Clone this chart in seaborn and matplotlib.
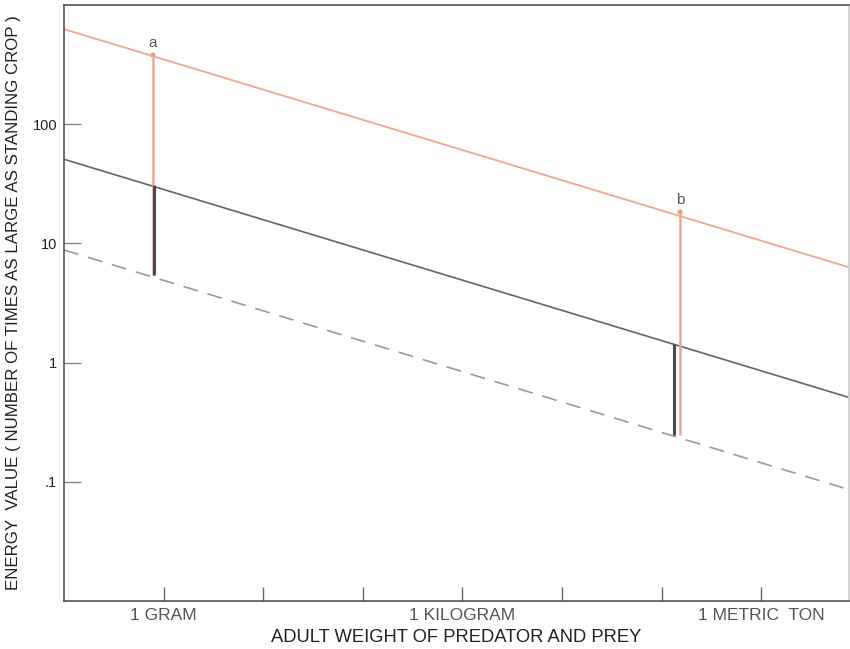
import matplotlib
matplotlib.use("Agg")
import matplotlib.pyplot as plt
import pandas as pd
import seaborn as sns

# weights in grams at the two edges of the plot
edge_weight = [0.1, 7.6e6]
upper_line = [627, 6.3]      # orange line
middle_line = [50.8, 0.51]   # solid gray line
lower_line = [8.8, 0.086]    # dashed line

# the two marked cases a and b
point_names = ["a", "b"]
point_weight = [0.78, 1.53e5]
point_top = [380, 18.3]
point_low = [5.4, 0.246]
bar_weight = [0.81, 1.34e5]
bar_top = [30.8, 1.43]
bar_low = [5.4, 0.246]

x_ticks = [1, 10, 100, 1e3, 1e4, 1e5, 1e6]
x_tick_labels = ["1 GRAM", "", "", "1 KILOGRAM", "", "", "1 METRIC  TON"]
y_ticks = [0.1, 1, 10, 100]
y_tick_labels = [".1", "1", "10", "100"]

sns.set_style("white")
plt.rcParams["font.family"] = ["Liberation Sans", "DejaVu Sans"]

fig = plt.figure(figsize=(8.5, 6.49), dpi=100)
ax = fig.add_axes([64 / 850, 48 / 649, 785 / 850, 596 / 649])

lines = pd.DataFrame({
    "weight": edge_weight * 3,
    "value": upper_line + middle_line + lower_line,
    "line": ["upper"] * 2 + ["middle"] * 2 + ["lower"] * 2,
})
sns.lineplot(data=lines[lines.line == "upper"], x="weight", y="value",
             color="#efa88e", linewidth=1.3, ax=ax)
sns.lineplot(data=lines[lines.line == "middle"], x="weight", y="value",
             color="#666666", linewidth=1.2, ax=ax)
sns.lineplot(data=lines[lines.line == "lower"], x="weight", y="value",
             color="#9a9a9a", linewidth=1.2, ax=ax)
ax.lines[-1].set_dashes([9, 6])

ax.vlines(point_weight, point_low, point_top, color="#f0a88e", linewidth=1.8)
ax.vlines(bar_weight, bar_low, bar_top, color="#4a4a4a", linewidth=2.2)
sns.scatterplot(x=point_weight, y=point_top, color="#e99a7c", s=14,
                edgecolor="none", ax=ax)
for name, w, v in zip(point_names, point_weight, point_top):
    ax.annotate(name, (w, v), xytext=(0, 4), textcoords="offset points",
                ha="center", va="bottom", fontsize=11, color="#555555")

ax.set_xscale("log")
ax.set_yscale("log")
ax.set_xlim(edge_weight)
ax.set_ylim(0.01, 1000)
ax.set_xticks(x_ticks)
ax.set_xticklabels(x_tick_labels)
ax.set_yticks(y_ticks)
ax.set_yticklabels(y_tick_labels)
ax.minorticks_off()
ax.tick_params(axis="x", bottom=True, direction="in", length=10, width=1,
               color="#666666", labelsize=12.5, labelcolor="#555555", pad=5)
ax.tick_params(axis="y", left=True, direction="in", length=12, width=1,
               color="#888888", labelsize=10.5, labelcolor="#222222", pad=5)

for side in ax.spines.values():
    side.set_color("#555555")
    side.set_linewidth(1.2)
ax.spines["right"].set_color("#cccccc")

ax.set_xlabel("ADULT WEIGHT OF PREDATOR AND PREY", fontsize=13.2,
              color="#222222", labelpad=4)
ax.set_ylabel("ENERGY  VALUE ( NUMBER OF TIMES AS LARGE AS STANDING CROP )",
              fontsize=12.2, color="#222222", labelpad=8)

fig.savefig("out.png", dpi=100)
